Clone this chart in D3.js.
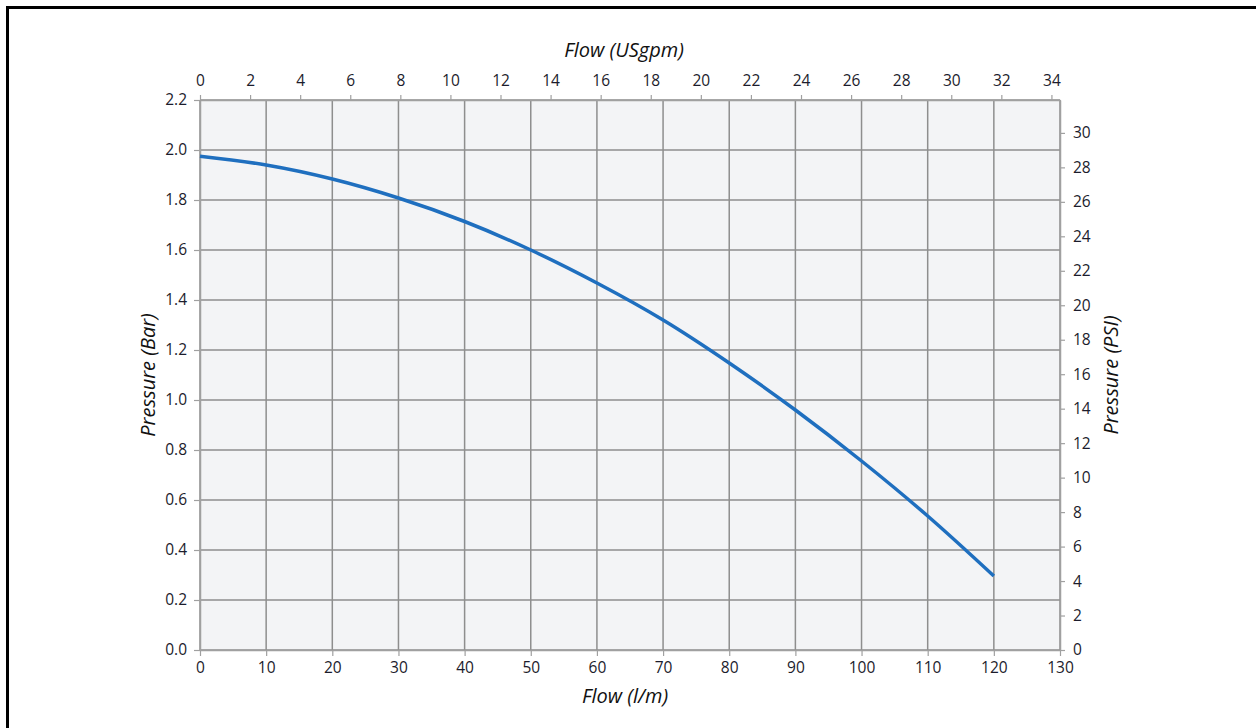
<!DOCTYPE html>
<html><head><meta charset="utf-8">
<script src="https://cdn.jsdelivr.net/npm/d3@7"></script>
<style>body{margin:0;background:#fff}svg{display:block}text{font-family:"Open Sans",sans-serif}</style>
</head><body><svg id="c" width="1256" height="728"></svg>
<script>
const flowLpm = [0,10,20,30,40,50,60,70,80,90,100,110,120];
const pressureBar = [1.975,1.94,1.884,1.808,1.714,1.60,1.468,1.32,1.148,0.96,0.756,0.536,0.296];
const bottomTicks = [0,10,20,30,40,50,60,70,80,90,100,110,120,130];
const leftTicks = [0,0.2,0.4,0.6,0.8,1.0,1.2,1.4,1.6,1.8,2.0,2.2];
const topTicks = [0,2,4,6,8,10,12,14,16,18,20,22,24,26,28,30,32,34];
const rightTicks = [0,2,4,6,8,10,12,14,16,18,20,22,24,26,28,30];
const LPM_PER_GPM = 3.78541, PSI_PER_BAR = 14.5038;

const svg = d3.select("#c");
const L=200,R=1060,T=100,B=650;
const x = d3.scaleLinear().domain([0,130]).range([L,R]);
const y = d3.scaleLinear().domain([0,2.2]).range([B,T]);
const xTop = d3.scaleLinear().domain([0,130/LPM_PER_GPM]).range([L,R]);
const yR = d3.scaleLinear().domain([0,2.2*PSI_PER_BAR]).range([B,T]);

// frame
svg.append("line").attr("x1",6).attr("x2",1256).attr("y1",7.5).attr("y2",7.5).attr("stroke","#000").attr("stroke-width",3);
svg.append("line").attr("x1",7.5).attr("x2",7.5).attr("y1",6).attr("y2",728).attr("stroke","#000").attr("stroke-width",3);

svg.append("rect").attr("x",L).attr("y",T).attr("width",R-L).attr("height",B-T).attr("fill","#f3f4f6");
const gc="#8e8e8e";
svg.append("g").selectAll("line").data(bottomTicks).join("line")
  .attr("x1",d=>x(d)).attr("x2",d=>x(d)).attr("y1",T).attr("y2",B).attr("stroke",gc).attr("stroke-width",1.5);
svg.append("g").selectAll("line").data(leftTicks).join("line")
  .attr("x1",L).attr("x2",R).attr("y1",d=>y(d)).attr("y2",d=>y(d)).attr("stroke",gc).attr("stroke-width",1.5);

function style(g){
  g.select(".domain").attr("stroke","#a0a0a0").attr("stroke-width",1.5);
  g.selectAll(".tick line").attr("stroke","#a0a0a0").attr("stroke-width",1.2);
  g.selectAll(".tick text").attr("fill","#1c1c2c").style("font-size","15.5px");
}
svg.append("g").attr("transform",`translate(0,${B})`)
  .call(d3.axisBottom(x).tickValues(bottomTicks).tickSize(6).tickPadding(6).tickSizeOuter(0).tickFormat(d3.format("d"))).call(style);
svg.append("g").attr("transform",`translate(${L},0)`)
  .call(d3.axisLeft(y).tickValues(leftTicks).tickSize(6).tickPadding(7).tickSizeOuter(0).tickFormat(d3.format(".1f"))).call(style);
svg.append("g").attr("transform",`translate(0,${T})`)
  .call(d3.axisTop(xTop).tickValues(topTicks).tickSize(5).tickPadding(9).tickSizeOuter(0).tickFormat(d3.format("d"))).call(style);
svg.append("g").attr("transform",`translate(${R},0)`)
  .call(d3.axisRight(yR).tickValues(rightTicks).tickSize(5).tickPadding(8).tickSizeOuter(0).tickFormat(d3.format("d"))).call(style);

const pts = flowLpm.map((f,i)=>[f,pressureBar[i]]);
svg.append("path").datum(pts).attr("fill","none").attr("stroke","#1f6fbf").attr("stroke-width",3.5)
  .attr("d",d3.line().x(d=>x(d[0])).y(d=>y(d[1])).curve(d3.curveCatmullRom));

const tt = {fill:"#111","font-size":"20px","font-style":"italic","text-anchor":"middle"};
function title(t,xx,yy,rot){const e=svg.append("text").text(t).attr("transform",`translate(${xx},${yy}) rotate(${rot||0})`);for(const k in tt)e.attr(k,tt[k]);}
title("Flow (USgpm)",624,57);
title("Flow (l/m)",625,703);
title("Pressure (Bar)",155,375,-90);
title("Pressure (PSI)",1118,375,-90);
</script></body></html>
